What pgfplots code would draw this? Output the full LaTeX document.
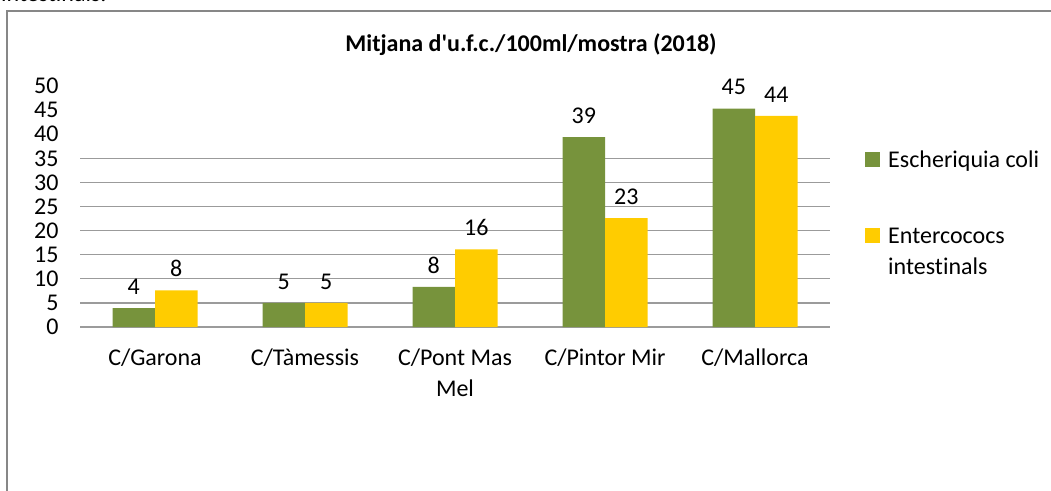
\documentclass[border=0pt]{standalone}
\usepackage{pgfplots}
\pgfplotsset{compat=1.18}
\usepackage{fontspec}
\setmainfont{Carlito}[Ligatures=NoCommon]
\definecolor{ecoli}{RGB}{119,147,60}
\definecolor{entero}{RGB}{255,204,0}
\definecolor{gridgray}{RGB}{155,155,155}
\definecolor{framegray}{RGB}{135,135,135}
\newcommand{\chartfont}{\fontsize{24}{31}\selectfont}

\begin{document}
\begin{tikzpicture}
\useasboundingbox (0pt,0pt) rectangle (1051pt,490pt);
% cropped caption line above the frame
\node[anchor=base west, inner sep=0pt, font=\chartfont] at (1pt,488pt) {intestinals.};
\draw[framegray, line width=2pt] (7pt,-2pt) -- (7pt,479pt) -- (1053pt,479pt);
\node[font=\fontsize{24}{28}\selectfont\bfseries] at (531pt,445pt) {Mitjana d\textquotesingle u.f.c./100ml/mostra (2018)};

\begin{axis}[
  at={(80pt,163pt)}, anchor=south west,
  scale only axis, width=750pt, height=241pt,
  xmin=-0.5, xmax=4.5, ymin=0, ymax=50,
  ybar=0pt, bar width=42.5pt,
  axis line style={draw=none}, major tick length=0pt,
  xtick={0,1,2,3,4},
  xticklabels={C/Garona, C/Tàmessis, {C/Pont Mas\\Mel}, C/Pintor Mir, C/Mallorca},
  xticklabel style={font=\chartfont, align=center, yshift=-18pt, anchor=north},
  ytick={0,5,...,50},
  yticklabel style={font=\chartfont, xshift=-18pt},
  /pgf/number format/assume math mode=true,
  extra y ticks={0,5,...,35}, extra y tick labels={},
  extra y tick style={ymajorgrids=true},
  major grid style={draw=gridgray, line width=1.3pt},
  nodes near coords={\pgfmathprintnumber[fixed,precision=0,assume math mode=true]{\pgfplotspointmeta}},
  every node near coord/.append style={font=\chartfont, text=black, yshift=10pt},
  legend image code/.code={\fill[#1] (0pt,0.3pt) rectangle (15pt,15.3pt);},
  legend style={at={(1.0467,0.745)}, anchor=north west, draw=none, fill=none, inner sep=0pt,
    font=\chartfont, row sep=53pt, column sep=5pt, nodes={anchor=base west, inner sep=3pt}},
]
\addplot[fill=ecoli, draw=none] coordinates {(0,3.9) (1,5.0) (2,8.3) (3,39.4) (4,45.3)};
\addlegendentry{Escheriquia coli}
\addplot[fill=entero, draw=none] coordinates {(0,7.6) (1,5.0) (2,16.1) (3,22.6) (4,43.8)};
\addlegendentry{\vtop{\hbox{Entercococs}\hbox{intestinals}}}
\end{axis}
\end{tikzpicture}
\end{document}
